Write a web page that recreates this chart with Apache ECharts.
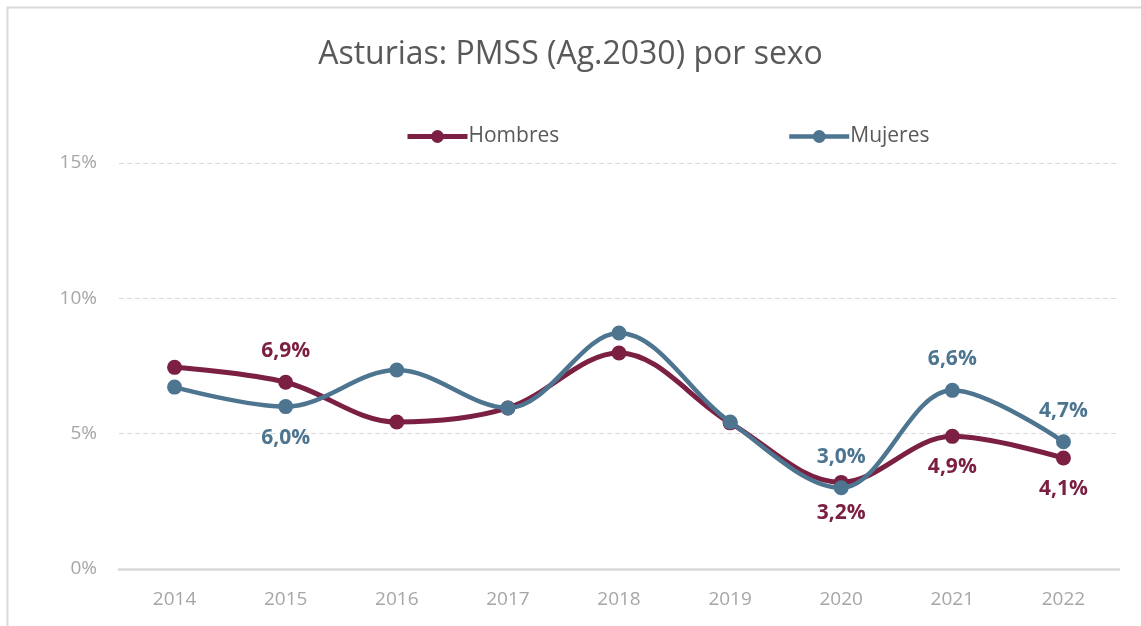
<!DOCTYPE html>
<html>
<head>
<meta charset="utf-8">
<script src="https://cdn.jsdelivr.net/npm/echarts@6/dist/echarts.min.js"></script>
<style>
  html, body { margin: 0; padding: 0; background: #fff; }
  #chart { width: 1141px; height: 626px; }
</style>
</head>
<body>
<div id="chart"></div>
<script>
// datos
const years = ['2014', '2015', '2016', '2017', '2018', '2019', '2020', '2021', '2022'];
const hombres = [7.45, 6.9, 5.43, 5.95, 7.98, 5.4, 3.2, 4.9, 4.1];
const mujeres = [6.72, 6.0, 7.35, 5.95, 8.72, 5.43, 3.0, 6.6, 4.7];
// etiquetas visibles: 'top' / 'bottom', null = sin etiqueta
const hombresLbl = [null, 'top', null, null, null, null, 'bottom', 'bottom', 'bottom'];
const mujeresLbl = [null, 'bottom', null, null, null, null, 'top', 'top', 'top'];
const yTicks = [0, 5, 10, 15];

const cHom = '#7B2042';
const cMuj = '#4D7590';

function buildData(vals, pos, color) {
  return vals.map((v, i) => {
    if (!pos[i]) return v;
    return {
      value: v,
      label: {
        show: true,
        position: pos[i],
        distance: 13,
        color: color,
        fontFamily: 'Open Sans',
        fontWeight: 'bold',
        fontSize: 21,
        formatter: (p) => p.value.toFixed(1).replace('.', ',') + '%'
      }
    };
  });
}

let myChart = echarts.init(document.getElementById('chart'));
let option = {
  backgroundColor: '#fff',
  animation: false,
  textStyle: { fontFamily: 'Open Sans' },
  graphic: [{
    type: 'rect',
    shape: { x: 7.5, y: 7.5, width: 1160, height: 640 },
    style: { fill: 'none', stroke: '#D9D9D9', lineWidth: 2 },
    silent: true
  }],
  title: {
    text: 'Asturias: PMSS (Ag.2030) por sexo',
    left: 'center',
    top: 34,
    textStyle: { color: '#595959', fontSize: 32, fontWeight: 'normal', fontFamily: 'Open Sans' }
  },
  legend: [{
    data: ['Hombres'],
    left: 400,
    top: 121,
    itemWidth: 60,
    itemHeight: 16,
    lineStyle: { width: 5 },
    textStyle: { color: '#595959', fontSize: 21, padding: [0, 0, 0, -4] }
  }, {
    data: ['Mujeres'],
    left: 782,
    top: 121,
    itemWidth: 60,
    itemHeight: 16,
    lineStyle: { width: 4.5 },
    textStyle: { color: '#595959', fontSize: 21, padding: [0, 0, 0, -4] }
  }],
  grid: { left: 119, right: 22, top: 163, bottom: 57 },
  xAxis: {
    type: 'category',
    data: years,
    boundaryGap: true,
    axisLine: { lineStyle: { color: '#D9D9D9', width: 2.5 } },
    axisTick: { show: false },
    axisLabel: { color: '#A6A6A6', fontSize: 19, margin: 21 }
  },
  yAxis: {
    type: 'value',
    min: 0,
    max: 15,
    interval: 5,
    axisLine: { show: false },
    axisTick: { show: false },
    axisLabel: {
      color: '#A6A6A6', fontSize: 19, margin: 22,
      formatter: (v) => yTicks.includes(v) ? v + '%' : ''
    },
    splitLine: { lineStyle: { color: '#D9D9D9', type: [5, 3], width: 1.2 } }
  },
  series: [{
    name: 'Hombres',
    type: 'line',
    smooth: 0.35,
    symbol: 'circle',
    symbolSize: 15,
    lineStyle: { color: cHom, width: 5 },
    itemStyle: { color: cHom },
    data: buildData(hombres, hombresLbl, cHom),
    z: 3
  }, {
    name: 'Mujeres',
    type: 'line',
    smooth: 0.35,
    symbol: 'circle',
    symbolSize: 15,
    lineStyle: { color: cMuj, width: 4.5 },
    itemStyle: { color: cMuj },
    data: buildData(mujeres, mujeresLbl, cMuj),
    z: 4
  }]
};
myChart.setOption(option);
window.addEventListener('resize', function () {
  myChart.resize();
});
</script>
</body>
</html>
